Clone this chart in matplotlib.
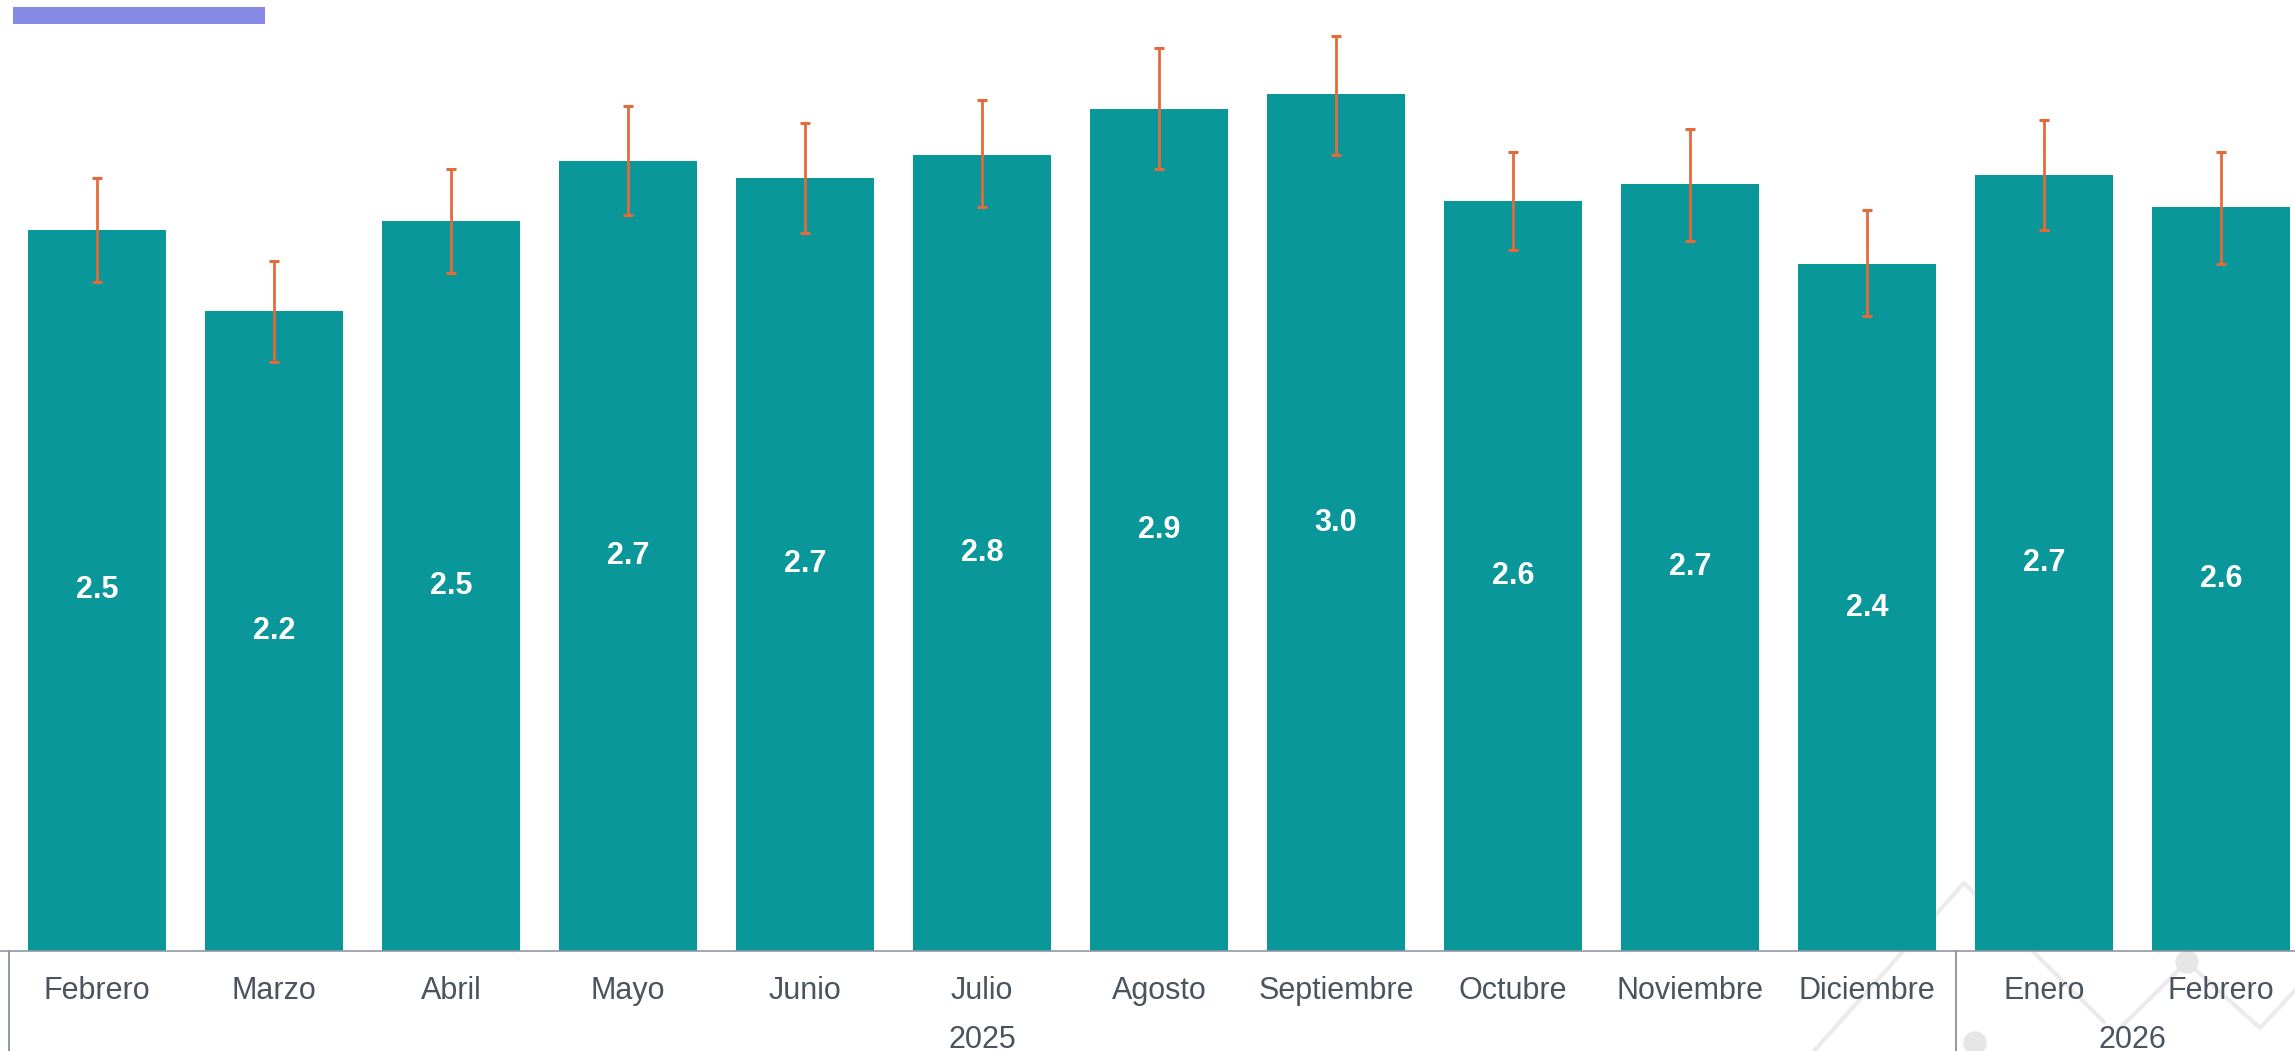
import matplotlib
matplotlib.use("Agg")
import matplotlib.pyplot as plt
import matplotlib.transforms as mtransforms
from matplotlib.lines import Line2D
from matplotlib.patches import Rectangle, Ellipse

# ---------------- data ----------------
months = ["Febrero", "Marzo", "Abril", "Mayo", "Junio", "Julio", "Agosto",
          "Septiembre", "Octubre", "Noviembre", "Diciembre", "Enero", "Febrero"]
values = [2.50, 2.22, 2.53, 2.74, 2.68, 2.76, 2.92, 2.97, 2.60, 2.66, 2.38, 2.69, 2.58]
err_low = [2.32, 2.04, 2.35, 2.55, 2.49, 2.58, 2.71, 2.76, 2.43, 2.46, 2.20, 2.50, 2.38]
err_high = [2.68, 2.39, 2.71, 2.93, 2.87, 2.95, 3.13, 3.17, 2.77, 2.85, 2.57, 2.88, 2.77]
years = ["2025", "2026"]
year_sizes = [11, 2]

# ---------------- style ----------------
W, H, DPI = 2295, 1051, 100
BAR = "#09979A"
ERR = "#E36B3B"
TXT = "#4A545E"
AXL = "#8E99A3"
TICK_FONT = ["Liberation Sans", "DejaVu Sans"]
VAL_FONT = ["Liberation Sans", "DejaVu Sans"]

fig = plt.figure(figsize=(W / DPI, H / DPI), dpi=DPI)
fig.patch.set_facecolor("white")

# axes: baseline at y=951 px from top, spans to top of figure
ax = fig.add_axes([0, (H - 951) / H, 1, 951 / H])
ax.set_facecolor("none")

x = list(range(len(months)))
ax.bar(x, values, width=0.78, color=BAR, zorder=2)
yerr = [[v - lo for v, lo in zip(values, err_low)],
        [hi - v for v, hi in zip(values, err_high)]]
ax.errorbar(x, values, yerr=yerr, fmt="none", ecolor=ERR, elinewidth=2.0,
            capsize=3.3, capthick=2.2, zorder=3)

for xi, v in zip(x, values):
    ax.text(xi, v / 2, f"{v:.1f}", ha="center", va="center", color="white",
            fontsize=22, fontweight="bold", family=VAL_FONT, zorder=4)

ax.set_xlim(-97 / 177, (W - 97) / 177)
ax.set_ylim(0, 951 / 288.5)

ax.set_xticks(x)
ax.set_xticklabels(months, fontsize=22, color=TXT, family=TICK_FONT)
ax.tick_params(axis="x", length=0, pad=18)
ax.set_yticks([])
for s in ["top", "right", "left"]:
    ax.spines[s].set_visible(False)
ax.spines["bottom"].set_color(AXL)
ax.spines["bottom"].set_linewidth(1.2)

# group separators and year labels
trans = mtransforms.blended_transform_factory(ax.transData, ax.transAxes)
start = -0.5
for yr, n in zip(years, year_sizes):
    ax.plot([start, start], [0, -0.2], transform=trans, color="#7A8896",
            lw=1.2, clip_on=False)
    center = start + n / 2
    ax.text(center, -(1048 - 951) / 951, yr, transform=trans, ha="center",
            va="baseline", fontsize=22, color=TXT, family=TICK_FONT, clip_on=False)
    start += n

# legend-like swatch at top left
fig.add_artist(Rectangle((13 / W, (H - 24) / H), 252 / W, 17 / H,
                         transform=fig.transFigure, color="#878AE6", lw=0))

# faint background decoration (bottom right)
def px(xp, yp):
    return xp / W, (H - yp) / H

deco_lines = [
    [(1814, 1051), (1964, 883), (2104, 1022)],
    [(2121, 1027), (2187, 962), (2260, 1028), (2300, 985)],
]
for seg in deco_lines:
    xs = [px(a, b)[0] for a, b in seg]
    ys = [px(a, b)[1] for a, b in seg]
    fig.add_artist(Line2D(xs, ys, transform=fig.transFigure, color="#EBEBEB",
                          lw=3.0, zorder=-5, solid_capstyle="round"))
for cx, cy in [(1975, 1043), (2187, 962)]:
    fig.add_artist(Ellipse(px(cx, cy), 22 / W, 22 / H, transform=fig.transFigure,
                           color="#E6E6E6", zorder=-5))

fig.savefig("out.png", dpi=DPI, facecolor="white")
